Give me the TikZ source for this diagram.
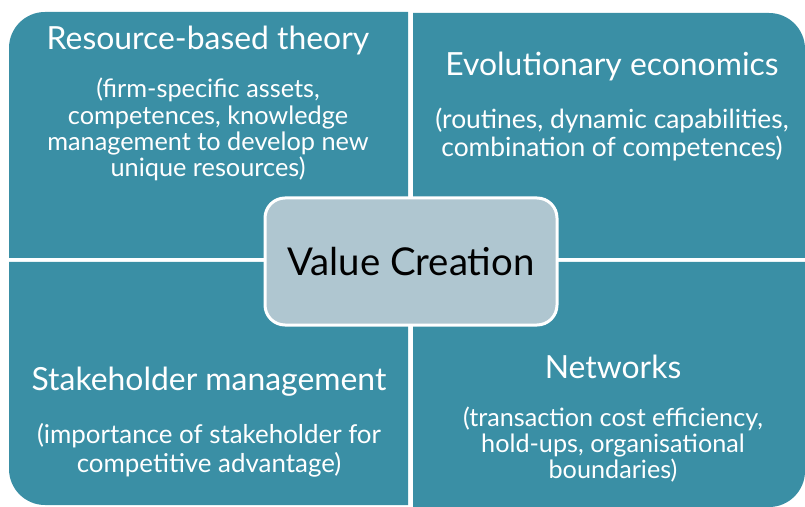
\documentclass[tikz,border=0pt]{standalone}
\usepackage{fontspec}
\setmainfont{Lato}
\begin{document}
\begin{tikzpicture}[x=1bp,y=-1bp,
  quad/.style={fill=quadteal},
  title/.style={text=white,font=\fontsize{32}{36}\selectfont,inner sep=0pt,anchor=base},
  body/.style={text=white,inner sep=0pt,anchor=base,align=center},
  hub/.style={draw=white,line width=3bp,fill=hubgrey,rounded corners=20bp,minimum width=292bp,minimum height=127bp,inner sep=0pt,font=\fontsize{38.5}{42}\selectfont,text=black}]
\definecolor{quadteal}{HTML}{3A8FA5}
\definecolor{hubgrey}{HTML}{AFC6D0}
\useasboundingbox (0,0) rectangle (805,507);
% four quadrants, each rounded at its outer corner
\fill[quad] (9,258) [rounded corners=36bp] -- (9,12) [sharp corners] -- (408,12) -- (408,258) -- cycle;
\fill[quad] (413,13) [rounded corners=36bp] -- (805,13) [sharp corners] -- (805,258) -- (413,258) -- cycle;
\fill[quad] (408,262) -- (408,505) [rounded corners=36bp] -- (9,505) [sharp corners] -- (9,262) -- cycle;
\fill[quad] (413,262) -- (805,262) [rounded corners=36bp] -- (805,507) [sharp corners] -- (413,507) -- cycle;
% quadrant texts (multi-line bodies sit on the baseline of their last line)
\node[title] (rbt) at (208,50) {Resource-based theory};
\node[body,font=\fontsize{25.4}{26.5}\selectfont] (rbtb) at (208,177) {(firm-specific assets,\\competences, knowledge\\management to develop new\\unique resources)};
\node[title] (evo) at (612,76) {Evolutionary economics};
\node[body,font=\fontsize{26.5}{29}\selectfont] (evob) at (612,157) {(routines, dynamic capabilities,\\combination of competences)};
\node[title] (stk) at (209,390) {Stakeholder management};
\node[body,font=\fontsize{26}{29}\selectfont] (stkb) at (209,472) {(importance of stakeholder for\\competitive advantage)};
\node[title] (net) at (613,378) {Networks};
\node[body,font=\fontsize{25.3}{26}\selectfont] (netb) at (613,478) {(transaction cost efficiency,\\hold-ups, organisational\\boundaries)};
% central hub
\node[hub] (vc) at (411,261.5) {Value Creation};
\end{tikzpicture}
\end{document}
